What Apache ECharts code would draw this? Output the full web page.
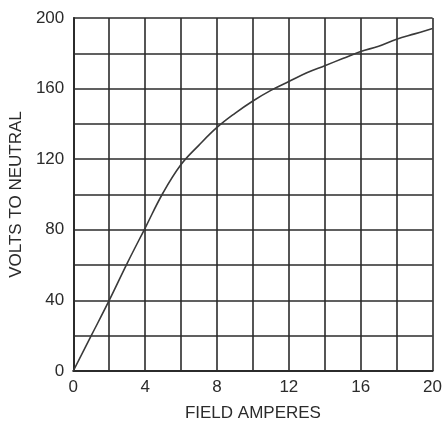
<!DOCTYPE html>
<html>
<head>
<meta charset="utf-8">
<script src="https://cdn.jsdelivr.net/npm/echarts@6/dist/echarts.min.js"></script>
<style>
html,body{margin:0;padding:0;background:#fff;}
#chart{width:445px;height:427px;}
</style>
</head>
<body>
<div id="chart"></div>
<script>
var fieldAmperes = [0, 1, 2, 3, 4, 5, 6, 7, 8, 9, 10, 11, 12, 13, 14, 15, 16, 17, 18, 19, 20];
var voltsToNeutral = [0, 20, 40, 61, 81, 101, 117, 128, 138, 146, 153, 159, 164, 169, 173, 177, 181, 184, 188, 191, 194];
var xTickLabels = [0, 4, 8, 12, 16, 20];
var yTickLabels = [0, 40, 80, 120, 160, 200];
var xTitle = 'FIELD AMPERES';
var yTitle = 'VOLTS TO NEUTRAL';

var chart = echarts.init(document.getElementById('chart'), null, {renderer: 'canvas'});
var ink = '#2b2b2b';
var fontFamily = 'Liberation Sans, Arial, sans-serif';
chart.setOption({
  animation: false,
  backgroundColor: '#ffffff',
  grid: {left: 70, right: 8, top: 18, bottom: 43, containLabel: false},
  xAxis: {
    type: 'value', min: 0, max: 20, interval: 2,
    name: xTitle, nameLocation: 'middle', nameGap: 34,
    nameTextStyle: {color: ink, fontSize: 17, fontFamily: fontFamily},
    axisLine: {show: true, lineStyle: {color: ink, width: 2}},
    axisTick: {show: false},
    axisLabel: {
      color: ink, fontSize: 17, fontFamily: fontFamily, margin: 8,
      formatter: function (v) { return xTickLabels.indexOf(v) >= 0 ? String(v) : ''; }
    },
    splitLine: {show: true, lineStyle: {color: ink, width: 1.6}}
  },
  yAxis: {
    type: 'value', min: 0, max: 200, interval: 20,
    name: yTitle, nameLocation: 'middle', nameGap: 41,
    nameTextStyle: {color: ink, fontSize: 17, fontFamily: fontFamily},
    axisLine: {show: true, lineStyle: {color: ink, width: 2}},
    axisTick: {show: false},
    axisLabel: {
      color: ink, fontSize: 17, fontFamily: fontFamily, margin: 9, padding: [10, 0, 0, 0],
      formatter: function (v) { return yTickLabels.indexOf(v) >= 0 ? String(v) : ''; }
    },
    splitLine: {show: true, lineStyle: {color: ink, width: 1.6}}
  },
  series: [{
    type: 'line',
    data: fieldAmperes.map(function (x, i) { return [x, voltsToNeutral[i]]; }),
    smooth: 0.4,
    showSymbol: false,
    symbol: 'none',
    lineStyle: {color: '#3a3a3a', width: 1.6},
    z: 5
  }]
});
</script>
</body>
</html>
